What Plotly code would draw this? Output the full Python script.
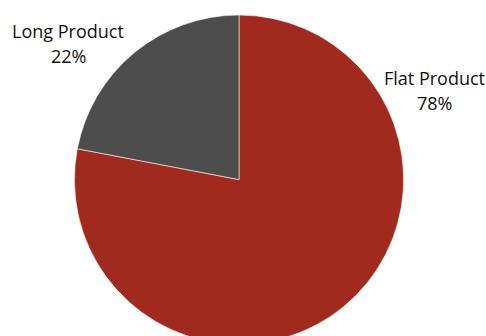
import plotly.graph_objects as go

# Product mix shares
labels = ["Flat Product", "Long Product"]
shares = [78, 22]
colors = ["#A12A1E", "#4D4D4D"]

W, H = 486, 360

fig = go.Figure(
    go.Pie(
        labels=labels,
        values=shares,
        sort=False,
        direction="clockwise",
        rotation=0,
        marker=dict(colors=colors, line=dict(color="rgba(255,255,255,0.55)", width=1)),
        textinfo="none",
        hoverinfo="label+percent",
        domain=dict(x=[0.1531, 0.8305], y=[0.0439, 0.9583]),
        showlegend=False,
    )
)

# Category labels: name on the first line, share below it
label_pos = {"Flat Product": (434, 78), "Long Product": (68, 31)}
line_gap = 25
font = dict(family="Open Sans", size=18, color="#111111")
for name, val in zip(labels, shares):
    px, py = label_pos[name]
    for i, txt in enumerate([name, f"{val}%"]):
        fig.add_annotation(
            x=px / W, y=1 - (py + i * line_gap) / H, xref="paper", yref="paper",
            text=txt, showarrow=False, font=font,
            xanchor="center", yanchor="middle",
        )

fig.update_layout(
    width=W, height=H,
    margin=dict(l=0, r=0, t=0, b=0),
    paper_bgcolor="white", plot_bgcolor="white",
)

fig.write_html(
    "out.html",
    post_script="document.documentElement.style.overflow='hidden';document.body.style.overflow='hidden';document.body.style.margin='0';",
)
